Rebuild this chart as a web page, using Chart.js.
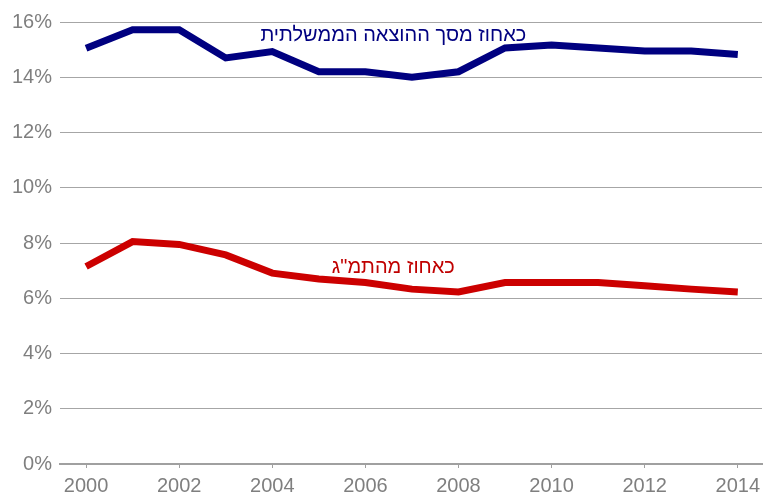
<!DOCTYPE html>
<html>
<head>
<meta charset="utf-8">
<script src="https://cdn.jsdelivr.net/npm/chart.js@4"></script>
<style>
  html, body { margin: 0; padding: 0; background: #fff; }
  #wrap { width: 767px; height: 497px; }
</style>
</head>
<body>
<div id="wrap"><canvas id="chart"></canvas></div>
<script>
const years = [2000, 2001, 2002, 2003, 2004, 2005, 2006, 2007, 2008, 2009, 2010, 2011, 2012, 2013, 2014];
const govShare = [15.05, 15.72, 15.72, 14.7, 14.93, 14.2, 14.2, 14.0, 14.2, 15.06, 15.17, 15.06, 14.95, 14.95, 14.82];
const gdpShare = [7.15, 8.05, 7.95, 7.57, 6.91, 6.70, 6.57, 6.33, 6.23, 6.57, 6.57, 6.57, 6.45, 6.33, 6.23];
const xTicks = [2000, 2002, 2004, 2006, 2008, 2010, 2012, 2014];
const yTicks = [0, 2, 4, 6, 8, 10, 12, 14, 16];
const govLabel = 'כאחוז מסך ההוצאה הממשלתית';
const gdpLabel = 'כאחוז מהתמ"ג';

const toPoints = arr => arr.map((v, i) => ({ x: years[i], y: v }));

// series captions drawn inside the plot
const captions = {
  id: 'captions',
  afterDatasetsDraw(chart) {
    const { ctx, scales: { x, y } } = chart;
    ctx.save();
    ctx.font = '20px "Liberation Sans", Arial, sans-serif';
    ctx.textAlign = 'center';
    ctx.textBaseline = 'middle';
    ctx.direction = 'rtl';
    ctx.fillStyle = '#000080';
    ctx.fillText(govLabel, x.getPixelForValue(2006.6), y.getPixelForValue(15.5));
    ctx.fillStyle = '#c00000';
    ctx.fillText(gdpLabel, x.getPixelForValue(2006.6), y.getPixelForValue(7.1));
    ctx.restore();
  }
};

new Chart(document.getElementById('chart'), {
  type: 'line',
  data: {
    datasets: [{
      label: govLabel,
      data: toPoints(govShare),
      borderColor: '#000080',
      borderWidth: 7,
      pointRadius: 0,
      tension: 0
    },
    {
      label: gdpLabel,
      data: toPoints(gdpShare),
      borderColor: '#cc0000',
      borderWidth: 7,
      pointRadius: 0,
      tension: 0
    }]
  },
  options: {
    responsive: true,
    maintainAspectRatio: false,
    animation: false,
    layout: { padding: { top: 22, right: 5, left: 0, bottom: 0 } },
    scales: {
      x: {
        type: 'linear',
        min: 1999.44,
        max: 2014.52,
        afterBuildTicks: scale => { scale.ticks = xTicks.map(v => ({ value: v })); },
        afterFit: scale => { scale.height = 33; },
        border: { display: true, color: '#a0a0a0', width: 2 },
        grid: { drawOnChartArea: false, drawTicks: true, tickLength: 4, color: '#a0a0a0' },
        ticks: {
          color: '#7f7f7f',
          padding: 6,
          maxRotation: 0,
          font: { family: '"Liberation Sans", Arial, sans-serif', size: 20 },
          callback: v => String(v)
        }
      },
      y: {
        min: 0,
        max: 16,
        afterBuildTicks: scale => { scale.ticks = yTicks.map(v => ({ value: v })); },
        afterFit: scale => { scale.width = 60; },
        border: { display: false },
        grid: { color: '#a6a6a6', drawTicks: false },
        ticks: {
          color: '#7f7f7f',
          padding: 8,
          font: { family: '"Liberation Sans", Arial, sans-serif', size: 20 },
          callback: v => v + '%'
        }
      }
    },
    plugins: {
      legend: { display: false },
      tooltip: { enabled: false }
    }
  },
  plugins: [captions]
});
</script>
</body>
</html>
